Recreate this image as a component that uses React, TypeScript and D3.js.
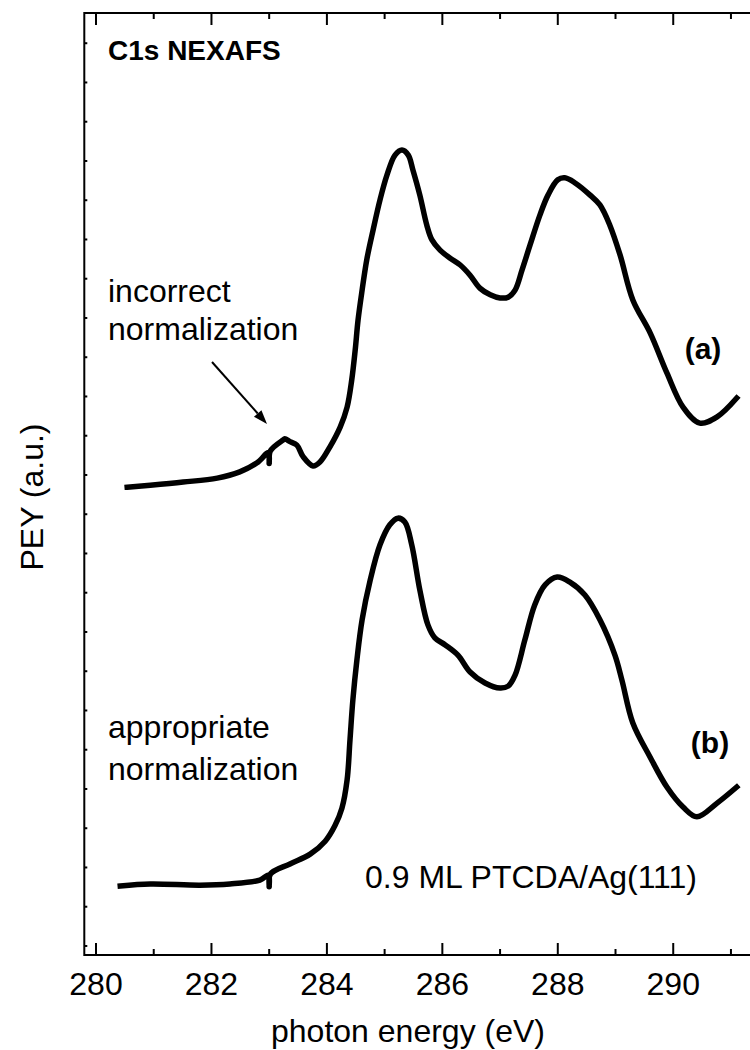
import React from "react";
import * as d3 from "d3";

// photon energy (eV) and PEY (a.u.) for curve (a): incorrect normalization
const energyA = [280.54, 280.94, 281.51, 282.10, 282.49, 282.79, 282.99, 283.00, 283.02, 283.24, 283.27, 283.36, 283.48, 283.59, 283.76, 283.88, 284.05, 284.23, 284.35, 284.43, 284.49, 284.54, 284.61, 284.69, 284.80, 284.92, 285.04, 285.18, 285.30, 285.41, 285.49, 285.61, 285.73, 285.82, 285.96, 286.13, 286.31, 286.48, 286.65, 286.83, 287.00, 287.14, 287.26, 287.38, 287.52, 287.69, 287.83, 288.00, 288.12, 288.30, 288.56, 288.73, 288.90, 289.08, 289.30, 289.60, 289.89, 290.17, 290.46, 290.76, 291.10];
const peyA = [11.92, 11.97, 12.05, 12.15, 12.31, 12.54, 12.80, 12.52, 12.84, 13.12, 13.15, 13.08, 12.99, 12.69, 12.46, 12.56, 12.94, 13.45, 13.96, 14.65, 15.41, 16.18, 16.94, 17.71, 18.47, 19.24, 19.87, 20.38, 20.51, 20.38, 20.00, 19.36, 18.60, 18.22, 17.96, 17.76, 17.58, 17.32, 16.99, 16.82, 16.74, 16.76, 16.94, 17.45, 18.09, 18.85, 19.36, 19.75, 19.80, 19.67, 19.36, 19.11, 18.60, 17.83, 16.69, 15.85, 14.83, 13.96, 13.55, 13.71, 14.19];

// curve (b): appropriate normalization
const energyB = [280.42, 280.94, 281.80, 282.32, 282.84, 282.99, 283.00, 283.02, 283.36, 283.71, 283.97, 284.14, 284.26, 284.35, 284.40, 284.45, 284.52, 284.61, 284.75, 284.92, 285.09, 285.23, 285.35, 285.47, 285.61, 285.75, 285.87, 286.05, 286.27, 286.48, 286.74, 287.00, 287.14, 287.26, 287.43, 287.60, 287.78, 287.99, 288.21, 288.47, 288.73, 288.99, 289.11, 289.30, 289.60, 289.89, 290.17, 290.41, 290.76, 291.10];
const peyB = [1.76, 1.81, 1.78, 1.81, 1.91, 2.04, 1.74, 2.06, 2.32, 2.57, 2.90, 3.30, 3.74, 4.46, 5.48, 6.50, 7.52, 8.54, 9.55, 10.45, 10.96, 11.13, 11.03, 10.45, 9.30, 8.41, 8.08, 7.90, 7.64, 7.21, 6.93, 6.80, 6.85, 7.13, 8.03, 8.92, 9.43, 9.63, 9.50, 9.17, 8.54, 7.64, 7.01, 5.91, 5.04, 4.28, 3.77, 3.52, 3.87, 4.28];

const xMajorTicks = [280, 282, 284, 286, 288, 290];
const xMinorTicks = [281, 283, 285, 287, 289, 291];
const yTicks = d3.range(0.23, 24, 1);

const W = 750, H = 1050;
const left = 84.3, right = 750, top = 13, bottom = 955;

export default function App() {
  const x = d3.scaleLinear().domain([279.797, 291.33]).range([left, right]);
  const y = d3.scaleLinear().domain([0, 24]).range([bottom, top]);
  const line = d3.line<[number, number]>().x(d => x(d[0])).y(d => y(d[1])).curve(d3.curveCatmullRom.alpha(0.5));
  const dataA = energyA.map((e, i) => [e, peyA[i]] as [number, number]);
  const dataB = energyB.map((e, i) => [e, peyB[i]] as [number, number]);
  const font = "'Liberation Sans', Arial, Helvetica, sans-serif";

  // arrow geometry
  const ax1 = 212, ay1 = 362, ax2 = 267, ay2 = 424;
  const ang = Math.atan2(ay2 - ay1, ax2 - ax1);
  const hl = 14, hw = 5;
  const bx = ax2 - hl * Math.cos(ang), by = ay2 - hl * Math.sin(ang);
  const head = `M${ax2},${ay2} L${bx + hw * Math.sin(ang)},${by - hw * Math.cos(ang)} L${bx - hw * Math.sin(ang)},${by + hw * Math.cos(ang)} Z`;

  return (
    <svg width={W} height={H} style={{ position: "absolute", left: 0, top: 0, background: "#fff" }} fontFamily={font}>
      <rect x={0} y={0} width={W} height={H} fill="#fff" />
      {/* frame */}
      <rect x={left} y={top} width={right + 2 - left} height={bottom - top} fill="none" stroke="#000" strokeWidth={2} />
      {/* bottom & top ticks */}
      {xMajorTicks.map(t => (
        <g key={"M" + t}>
          <line x1={x(t)} x2={x(t)} y1={bottom} y2={bottom - 12} stroke="#000" strokeWidth={2} />
          <line x1={x(t)} x2={x(t)} y1={top} y2={top + 12} stroke="#000" strokeWidth={2} />
          <text x={x(t)} y={995} textAnchor="middle" fontSize={32} fill="#000">{t}</text>
        </g>
      ))}
      {xMinorTicks.map(t => (
        <g key={"m" + t}>
          <line x1={x(t)} x2={x(t)} y1={bottom} y2={bottom - 6} stroke="#000" strokeWidth={2} />
          <line x1={x(t)} x2={x(t)} y1={top} y2={top + 6} stroke="#000" strokeWidth={2} />
        </g>
      ))}
      {yTicks.map(t => (
        <line key={"y" + t} x1={left} x2={left + 3} y1={y(t)} y2={y(t)} stroke="#000" strokeWidth={2} />
      ))}
      {/* curves */}
      <path d={line(dataA) || ""} fill="none" stroke="#000" strokeWidth={5.5} strokeLinejoin="round" strokeLinecap="square" />
      <path d={line(dataB) || ""} fill="none" stroke="#000" strokeWidth={5.5} strokeLinejoin="round" strokeLinecap="square" />
      {/* arrow */}
      <line x1={ax1} y1={ay1} x2={bx} y2={by} stroke="#000" strokeWidth={2} />
      <path d={head} fill="#000" />
      {/* labels */}
      <text x={108} y={60} fontSize={28} fontWeight="bold" fill="#000">C1s NEXAFS</text>
      <text x={108} y={302} fontSize={32} fill="#000">incorrect</text>
      <text x={108} y={340} fontSize={32} fill="#000">normalization</text>
      <text x={703} y={359} fontSize={30} fontWeight="bold" textAnchor="middle" fill="#000">(a)</text>
      <text x={108} y={738} fontSize={32} fill="#000">appropriate</text>
      <text x={108} y={780} fontSize={32} fill="#000">normalization</text>
      <text x={710} y={753} fontSize={30} fontWeight="bold" textAnchor="middle" fill="#000">(b)</text>
      <text x={365} y={888} fontSize={32} fill="#000">0.9 ML PTCDA/Ag(111)</text>
      <text x={408} y={1042} fontSize={32} textAnchor="middle" fill="#000">photon energy (eV)</text>
      <text transform={`translate(43,497) rotate(-90)`} fontSize={32} textAnchor="middle" fill="#000">PEY (a.u.)</text>
    </svg>
  );
}
